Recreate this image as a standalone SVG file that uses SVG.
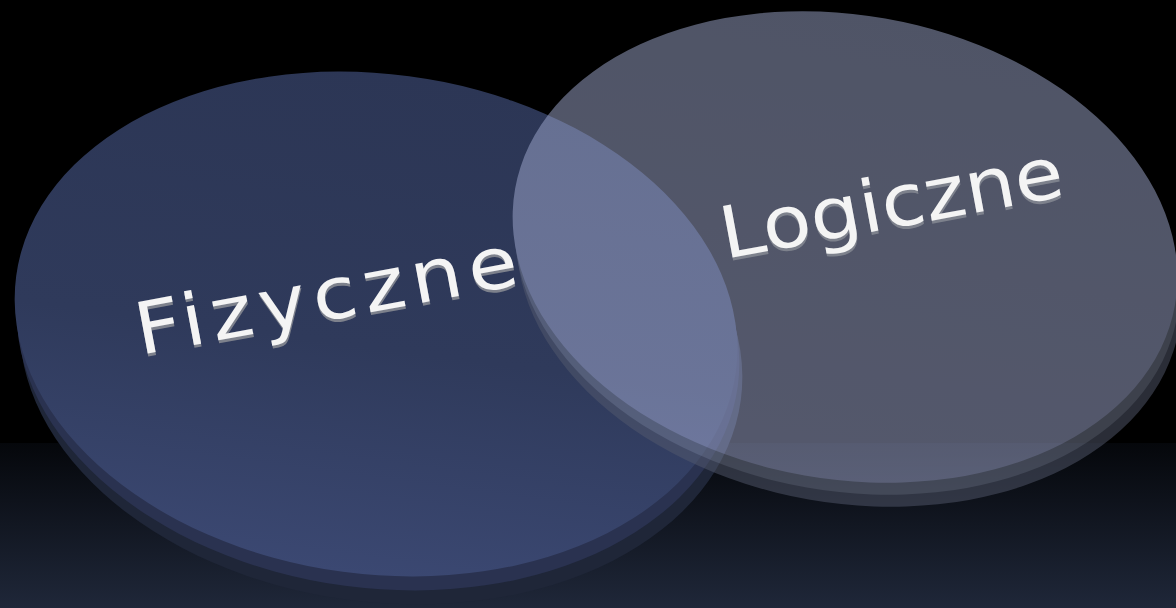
<svg xmlns="http://www.w3.org/2000/svg" width="1176" height="608" viewBox="0 0 1176 608">
  <defs>
    <linearGradient id="floor" x1="0" y1="0" x2="0" y2="1">
      <stop offset="0" stop-color="#05070b"/>
      <stop offset="1" stop-color="#1f2739"/>
    </linearGradient>
    <linearGradient id="faceL" gradientUnits="userSpaceOnUse" x1="0" y1="70" x2="0" y2="575">
      <stop offset="0" stop-color="#2c3655"/>
      <stop offset="0.55" stop-color="#2f3a5b"/>
      <stop offset="1" stop-color="#3b4872"/>
    </linearGradient>
    <linearGradient id="faceR" gradientUnits="userSpaceOnUse" x1="0" y1="10" x2="0" y2="485">
      <stop offset="0" stop-color="#9ea8cc"/>
      <stop offset="1" stop-color="#a8b0d8"/>
    </linearGradient>
    <style>
      .lbl { font-family: "DejaVu Sans", "Liberation Sans", sans-serif; font-size: 72px; }
      .txt { fill: #f4f4f4; }
      .shd { fill: #7d818c; }
    </style>
  </defs>

  <rect x="0" y="0" width="1176" height="608" fill="#000000"/>
  <rect x="0" y="443" width="1176" height="165" fill="url(#floor)"/>

  <g id="connectors"/>

  <g id="node-fizyczne">
    <ellipse cx="381" cy="352" rx="363" ry="250" transform="rotate(7.6 381 352)" fill="#1f2638"/>
    <ellipse cx="378" cy="338" rx="363" ry="250" transform="rotate(7.6 378 338)" fill="#2a3250"/>
    <ellipse cx="376" cy="324" rx="363" ry="250" transform="rotate(7.6 376 324)" fill="url(#faceL)"/>
    <g transform="translate(140 355) rotate(-10.5) scale(1.12 1)">
      <text class="lbl shd" x="0" y="3" textLength="346" lengthAdjust="spacing">Fizyczne</text>
      <text class="lbl txt" x="0" y="0" textLength="346" lengthAdjust="spacing">Fizyczne</text>
    </g>
  </g>

  <g id="node-logiczne">
    <g opacity="0.5">
      <ellipse cx="849" cy="271" rx="335" ry="232" transform="rotate(10 849 271)" fill="#545a6e"/>
      <ellipse cx="847" cy="259" rx="335" ry="232" transform="rotate(10 847 259)" fill="#7a8298"/>
      <ellipse cx="845" cy="247" rx="335" ry="232" transform="rotate(10 845 247)" fill="url(#faceR)"/>
    </g>
    <g transform="translate(725 259) rotate(-10.5) scale(1.1 1)">
      <text class="lbl shd" x="0" y="3">Logiczne</text>
      <text class="lbl txt" x="0" y="0">Logiczne</text>
    </g>
  </g>
</svg>
